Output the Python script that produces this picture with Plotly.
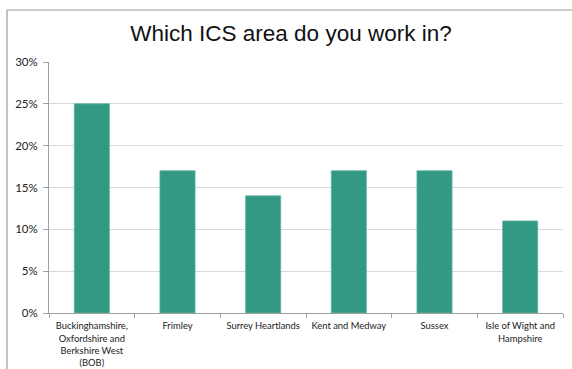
import plotly.graph_objects as go

# Survey responses by ICS area
areas = [
    "Buckinghamshire,<br>Oxfordshire and<br>Berkshire West<br>(BOB)",
    "Frimley",
    "Surrey Heartlands",
    "Kent and Medway",
    "Sussex",
    "Isle of Wight and<br>Hampshire",
]
shares = [0.25, 0.17, 0.14, 0.17, 0.17, 0.11]
y_ticks = [0, 0.05, 0.10, 0.15, 0.20, 0.25, 0.30]

W, H = 572, 369
ML, MR, MT, MB = 49, 9, 62, 56
pw, ph = W - ML - MR, H - MT - MB

def px_x(p):
    return (p - ML) / pw

def px_y(p):
    return (H - MB - p) / ph

fig = go.Figure(
    go.Bar(
        x=areas,
        y=shares,
        marker=dict(color="#339983", line=dict(color="#5fb4a2", width=0.8)),
        width=0.41,
    )
)

fig.update_layout(
    width=W,
    height=H,
    margin=dict(l=ML, r=MR, t=MT, b=MB, autoexpand=False),
    paper_bgcolor="white",
    plot_bgcolor="white",
    showlegend=False,
    title=dict(
        text="Which ICS area do you work in?",
        x=291 / W,
        xanchor="center",
        y=1 - 33 / H,
        yanchor="middle",
        font=dict(family="Liberation Sans, Arial", size=22.5, color="#111111"),
    ),
    font=dict(family="Lato, Open Sans, sans-serif", color="#222222"),
    shapes=[
        dict(type="line", xref="paper", yref="paper",
             x0=px_x(7), y0=px_y(10), x1=px_x(W + 5), y1=px_y(10),
             line=dict(color="#9a9a9a", width=1.2)),
        dict(type="line", xref="paper", yref="paper",
             x0=px_x(7), y0=px_y(10), x1=px_x(7), y1=px_y(H + 5),
             line=dict(color="#9a9a9a", width=1.2)),
    ],
)

fig.update_yaxes(
    range=[0, 0.30],
    tickvals=y_ticks,
    tickformat=".0%",
    showgrid=True,
    gridcolor="#d9d9d9",
    gridwidth=1,
    showline=True,
    linecolor="#a0a0a0",
    linewidth=1,
    ticks="outside",
    ticklen=5,
    tickcolor="#a0a0a0",
    ticklabelstandoff=3,
    tickfont=dict(size=11.5, color="#222222"),
    zeroline=False,
    automargin=False,
)

fig.update_xaxes(
    showline=True,
    linecolor="#a0a0a0",
    linewidth=1,
    ticks="outside",
    tickson="boundaries",
    ticklen=4,
    tickcolor="#a0a0a0",
    tickangle=0,
    ticklabelstandoff=4,
    tickfont=dict(size=9.4, color="#222222"),
    automargin=False,
)

fig.write_html("out.html")
